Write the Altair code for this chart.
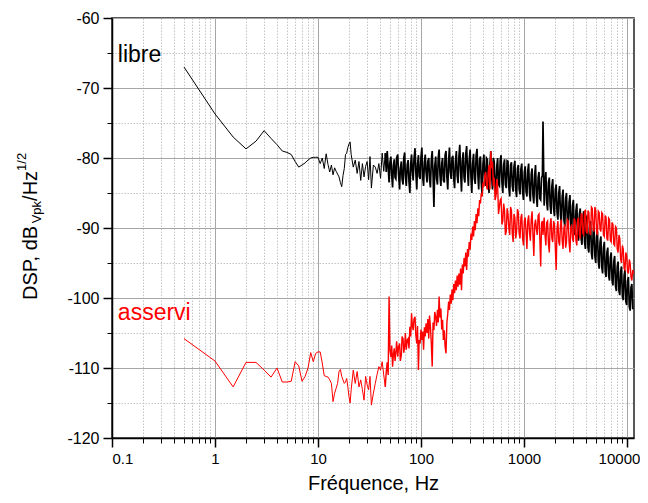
import altair as alt
import pandas as pd

# Frequencies (Hz)
freqs = [
    0.5, 1, 1.5, 2, 2.5, 3, 3.5, 4, 4.5, 5,
    5.5, 6, 6.5, 7, 7.5, 8, 8.5, 9, 9.5, 10,
    10.5, 11, 11.5, 12, 12.5, 13, 13.5, 14, 14.5, 15,
    15.5, 16, 16.5, 17, 17.5, 18, 18.5, 19, 19.5, 20,
    20.5, 21, 22, 23, 24, 25, 26, 27, 28, 29,
    30, 31, 32, 33, 34.5, 36, 37.5, 39, 40.5, 42,
    43.5,
    45, 46, 47, 48, 49, 50, 51, 52, 53, 54,
    55, 56, 57, 58, 59.5, 60.5, 62, 63, 64.5, 65.5,
    67, 68, 69.5, 70.5, 72, 73.5, 75, 76.5, 78, 79.5,
    81, 82.5, 84, 85.5, 87.5, 89, 91, 92.5, 94.5, 96,
    98, 100, 102, 104, 106, 108, 110, 112, 114.5, 116.5,
    119, 121, 123.5, 126, 128.5, 131, 133.5, 136, 139, 141.5,
    144.5, 147, 150, 153, 156, 159, 162, 165, 168.5, 171.5,
    175, 178.5, 182, 185.5, 189, 192.5, 196.5, 200, 204, 208,
    212, 216, 220.5, 224.5, 229, 233.5, 238, 242.5, 247.5, 252,
    257, 262, 267, 272, 277.5, 283, 288.5, 294, 300, 305.5,
    311.5, 317.5, 324, 330, 336.5, 343, 350, 356.5, 363.5, 370.5,
    378, 385, 392.5, 400, 408, 416, 424, 432.5, 441, 449.5,
    458, 467, 476, 485, 494.5, 504, 514, 524, 534, 544.5,
    555, 566, 577, 588, 599.5, 611, 623, 635, 647.5, 660,
    673, 686, 699.5, 713, 727, 741, 755.5, 770, 785, 800,
    816, 832, 848, 864.5, 881, 898, 915.5, 933.5, 951.5, 970,
    989, 1008, 1027.5, 1047.5, 1068, 1089, 1110, 1131.5, 1153.5, 1176,
    1199, 1222.5, 1246, 1270.5, 1295, 1320, 1345.5, 1372, 1398.5, 1425.5,
    1453, 1481.5, 1510, 1530, 1569.5, 1600, 1631, 1663, 1695, 1728,
    1761.5, 1796, 1830.5, 1866, 1902, 1939, 1976.5, 2015, 2054, 2094,
    2134.5, 2176, 2218, 2261.5, 2305, 2350, 2395.5, 2442, 2489.5, 2538,
    2587, 2637.5, 2688.5, 2741, 2794, 2848.5, 2903.5, 2960, 3017, 3076,
    3135.5, 3196.5, 3258.5, 3322, 3386, 3452, 3518.5, 3587, 3656.5, 3728,
    3800, 3874, 3949, 4026, 4104, 4184, 4265, 4348, 4432, 4518,
    4605.5, 4695, 4786, 4879, 4973.5, 5070, 5168.5, 5269, 5371, 5475,
    5581.5, 5690, 5800, 5913, 6027.5, 6145, 6264, 6386, 6509.5, 6636,
    6764.5, 6896, 7029.5, 7166, 7305, 7447, 7591.5, 7739, 7889, 8042,
    8198, 8357, 8519.5, 8685, 8853.5, 9025, 9200.5, 9379, 9561, 9746,
    9935.5, 10128, 10325, 10525, 10730, 10938, 11150, 11373, 11600,
]

# "libre" spectrum (dB)
libre = [
    -67.0, -73.7, -77.0, -78.7, -77.6, -76.1, -77.2, -78.1, -79.0, -79.2,
    -79.5, -80.5, -81.3, -81.0, -80.7, -80.3, -80.0, -79.9, -79.9, -79.9,
    -80.8, -80.0, -81.5, -79.4, -80.9, -82.0, -81.0, -82.4, -81.4, -81.9,
    -82.3, -82.7, -83.5, -84.1, -82.5, -81.5, -79.5, -79.3, -78.5, -78.0,
    -77.7, -79.5, -81.3, -80.3, -82.2, -80.5, -83.2, -80.8, -82.7, -81.2,
    -80.5, -83.1, -79.8, -84.3, -81.0, -81.3, -82.2, -80.8, -82.9, -79.3,
    -81.9,
    -79.3, -82.0, -79.0, -81.2, -83.5, -80.6, -79.8, -82.5, -84.2, -81.0,
    -80.2, -82.8, -83.0, -80.0, -79.5, -82.2, -84.5, -81.5, -80.5, -83.0,
    -83.8, -80.0, -79.2, -82.6, -84.0, -81.0, -80.3, -83.4, -85.0, -80.8,
    -79.5, -82.0, -83.2, -80.2, -78.6, -81.8, -84.5, -81.0, -79.6, -82.6,
    -83.0, -79.9, -78.5, -82.8, -84.0, -80.6, -79.5, -82.0, -83.5, -80.5,
    -80.0, -83.0, -84.2, -80.3, -79.0, -82.4, -87.0, -81.2, -79.8, -82.9,
    -83.8, -80.0, -78.8, -82.5, -84.0, -80.8, -80.0, -83.2, -83.5, -79.6,
    -79.0, -82.7, -84.5, -80.4, -78.5, -82.0, -83.0, -80.0, -79.7, -83.0,
    -84.3, -80.5, -79.0, -82.5, -83.6, -79.8, -78.1, -82.0, -84.8, -80.4,
    -79.2, -82.8, -83.5, -79.5, -78.3, -81.8, -84.0, -80.3, -78.8, -82.6,
    -85.0, -80.8, -79.4, -83.0, -83.7, -79.6, -78.7, -82.4, -84.5, -80.2,
    -79.8, -83.5, -85.4, -80.8, -79.5, -82.8, -84.0, -80.0, -80.2, -83.6,
    -85.0, -81.0, -79.0, -82.5, -84.5, -80.0, -80.5, -84.0, -85.2, -81.2,
    -80.0, -83.8, -84.0, -80.3, -79.6, -83.5, -85.0, -81.0, -80.2, -83.8,
    -84.3, -80.4, -80.5, -84.2, -85.5, -81.0, -80.6, -84.0, -84.8, -81.2,
    -80.4, -84.5, -85.6, -81.5, -81.0, -84.5, -85.2, -81.6, -80.8, -84.8,
    -86.0, -82.0, -81.2, -84.8, -85.5, -81.8, -80.8, -85.0, -86.2, -82.3,
    -81.5, -85.3, -86.5, -82.5, -81.0, -85.5, -87.0, -82.8, -82.0, -85.8,
    -86.0, -82.8, -82.5, -74.8, -86.8, -83.5, -82.0, -86.3, -87.5, -83.5,
    -82.8, -86.8, -88.0, -84.0, -83.0, -87.2, -88.3, -84.5, -83.8, -87.8,
    -88.8, -85.0, -84.0, -88.2, -89.2, -85.5, -84.5, -88.8, -89.8, -85.8,
    -85.0, -89.0, -90.0, -86.3, -85.3, -89.5, -90.6, -86.8, -86.0, -90.2,
    -91.0, -87.5, -86.5, -90.8, -91.8, -88.0, -87.2, -91.5, -92.4, -88.6,
    -87.6, -92.0, -93.0, -89.2, -88.2, -92.8, -93.5, -89.8, -89.0, -93.6,
    -94.5, -90.5, -89.8, -94.0, -95.0, -91.2, -90.5, -94.8, -95.8, -92.0,
    -91.2, -95.6, -96.5, -92.8, -92.0, -96.2, -97.0, -93.5, -92.8, -96.8,
    -97.5, -94.2, -93.5, -97.5, -98.2, -94.8, -94.0, -98.3, -99.0, -95.5,
    -94.8, -99.0, -99.6, -96.2, -95.5, -99.8, -100.3, -96.8, -96.0, -100.5,
    -101.0, -97.5, -97.0, -101.2, -101.8, -98.5, -98.0, -101.5, -101.5,
]

# "asservi" spectrum (dB)
asservi = [
    -105.8, -109.0, -112.7, -109.2, -109.2, -110.3, -111.3, -110.0, -112.0, -112.0,
    -111.9, -109.1, -109.7, -111.9, -111.2, -110.0, -107.8, -109.1, -107.9, -107.7,
    -107.7, -109.3, -111.1, -111.2, -111.3, -111.7, -112.2, -114.8, -113.6, -112.9,
    -112.2, -110.5, -110.2, -111.2, -111.7, -112.2, -112.0, -111.5, -112.7, -114.1,
    -115.0, -113.1, -110.3, -112.2, -110.5, -112.7, -111.7, -113.1, -114.6, -111.2,
    -112.4, -113.1, -111.2, -115.3, -113.6, -112.2, -110.9, -109.8, -110.3, -109.1,
    -111.0,
    -112.7, -110.5, -109.2, -111.0, -99.8, -107.5, -108.4, -106.8, -109.8, -108.0,
    -107.2, -109.0, -107.9, -106.2, -108.4, -107.0, -106.5, -109.0, -108.1, -105.5,
    -105.8, -107.8, -106.9, -105.0, -107.4, -106.0, -105.8, -107.2, -104.1, -105.5,
    -102.2, -104.0, -104.6, -103.0, -102.7, -105.2, -106.5, -104.0, -110.3, -106.0,
    -106.5, -104.5, -106.0, -104.8, -107.4, -104.2, -105.5, -103.6, -105.0, -103.0,
    -105.8, -102.5, -104.1, -106.5, -109.8, -103.5, -104.6, -102.0, -102.7, -104.0,
    -101.7, -103.5, -99.8, -102.8, -101.5, -104.5, -103.1, -106.0, -104.6, -107.0,
    -107.9, -103.5, -102.2, -100.5, -101.7, -99.5, -100.8, -98.8, -100.3, -98.0,
    -99.3, -97.5, -98.9, -96.8, -98.4, -96.5, -98.1, -95.8, -98.9, -95.2,
    -96.5, -94.3, -95.5, -93.5, -96.0, -93.0, -94.1, -92.0, -93.1, -90.8,
    -91.7, -89.8, -91.2, -89.0, -90.3, -88.0, -89.3, -87.2, -88.3, -86.0,
    -86.5, -85.0, -85.5, -83.5, -84.1, -82.5, -82.0, -84.0, -84.5, -82.0,
    -81.0, -84.5, -79.0, -81.5, -80.5, -84.0, -82.8, -86.0, -85.5, -83.0,
    -84.0, -88.0, -87.0, -86.0, -85.8, -89.5, -89.0, -86.5, -87.5, -91.0,
    -90.5, -87.2, -88.0, -90.0, -91.0, -87.0, -87.5, -90.8, -92.0, -88.0,
    -88.5, -91.5, -90.5, -87.3, -87.8, -90.8, -91.5, -88.5, -88.0, -91.5,
    -92.5, -89.0, -88.5, -90.5, -93.0, -89.0, -88.2, -90.6, -91.8, -88.8,
    -87.6, -91.0, -94.0, -89.5, -88.8, -90.2, -91.0, -88.2, -88.0, -91.5,
    -95.5, -89.3, -89.0, -91.0, -88.5, -91.0, -92.5, -89.2, -89.0, -92.2,
    -93.5, -89.5, -88.6, -91.5, -92.0, -89.0, -89.5, -92.8, -96.0, -90.0,
    -89.0, -92.0, -92.5, -89.5, -88.8, -91.8, -93.0, -90.0, -89.5, -92.8,
    -92.0, -88.8, -89.0, -92.0, -93.5, -90.0, -89.5, -91.5, -92.0, -88.6,
    -89.0, -91.8, -92.5, -88.8, -88.5, -91.0, -91.5, -88.0, -88.0, -90.8,
    -91.0, -87.6, -87.5, -90.5, -90.8, -87.5, -87.8, -90.6, -91.0, -87.0,
    -87.2, -90.2, -90.5, -87.0, -87.5, -90.6, -91.0, -87.6, -87.8, -90.2,
    -90.5, -87.8, -88.0, -91.0, -91.2, -88.2, -88.5, -91.5, -91.8, -88.6,
    -88.8, -91.8, -92.0, -89.2, -89.5, -92.3, -92.5, -89.8, -90.0, -93.0,
    -93.5, -91.0, -91.5, -94.5, -95.0, -92.5, -93.0, -95.8, -96.0, -93.5,
    -94.0, -96.2, -96.5, -94.5, -95.0, -97.0, -97.5, -96.0, -96.5,
]

x_major = [0.1, 1, 10, 100, 1000, 10000]
x_minor = [0.2, 0.3, 0.4, 0.5, 0.6, 0.7, 0.8, 0.9,
           2, 3, 4, 5, 6, 7, 8, 9,
           20, 30, 40, 50, 60, 70, 80, 90,
           200, 300, 400, 500, 600, 700, 800, 900,
           2000, 3000, 4000, 5000, 6000, 7000, 8000, 9000]
y_major = [-120, -110, -100, -90, -80, -70, -60]
y_minor = [-115, -105, -95, -85, -75, -65]

labels_txt = ["libre", "asservi"]
labels_f = [0.114, 0.114]
labels_v = [-66.3, -103.1]
labels_col = ["#000000", "#ff0000"]

n = min(len(freqs), len(libre), len(asservi))
df_l = pd.DataFrame({"f": freqs[:n], "v": libre[:n]})
df_a = pd.DataFrame({"f": freqs[:n], "v": asservi[:n]})
df_lab = pd.DataFrame({"t": labels_txt, "f": labels_f, "v": labels_v, "c": labels_col})

FONT = "Liberation Sans"
SPLIT = 45  # Hz: sparse low-frequency part drawn thin, dense part thicker
xs = alt.Scale(type="log", domain=[0.1, 11700], nice=False)
ys = alt.Scale(domain=[-120, -60], nice=False, zero=False)

minor = alt.Chart(df_l).mark_line(opacity=0).encode(
    x=alt.X("f:Q", scale=xs, axis=alt.Axis(
        orient="bottom", values=x_minor, grid=True, gridColor="#c4c4c4",
        gridDash=[1.5, 1.5], gridWidth=1, ticks=True, tickSize=5,
        tickColor="black", tickWidth=1, labels=False, domain=False, title=None)),
    y=alt.Y("v:Q", scale=ys, axis=alt.Axis(
        orient="left", values=y_minor, grid=True, gridColor="#c4c4c4",
        gridDash=[1.5, 1.5], gridWidth=1, ticks=True, tickSize=5,
        tickColor="black", tickWidth=1, labels=False, domain=False, title=None)),
)

black_lo = alt.Chart(df_l).transform_filter(f"datum.f <= {SPLIT}").mark_line(
    color="black", strokeWidth=1).encode(
    x=alt.X("f:Q", scale=xs, axis=alt.Axis(
        orient="bottom", values=x_major, grid=True, gridColor="#a6a6a6",
        gridWidth=1, tickSize=9, tickColor="black", tickWidth=1.5,
        domain=True, domainColor="black", domainWidth=1.5,
        labels=True, labelExpr="'' + datum.value", labelFont=FONT,
        labelFontSize=15, labelColor="black", labelPadding=4,
        labelOffset={"condition": {"test": "datum.value == 10000", "value": -8}, "value": 0},
        title="Fréquence, Hz", titleFont=FONT, titleFontSize=20,
        titleFontWeight="normal", titleColor="black", titleY=51,
        titleBaseline="alphabetic")),
    y=alt.Y("v:Q", scale=ys, axis=alt.Axis(
        orient="left", values=y_major, grid=True, gridColor="#a6a6a6",
        gridWidth=1, tickSize=9, tickColor="black", tickWidth=1.5,
        domain=True, domainColor="black", domainWidth=1.5,
        labels=True, labelExpr="'' + datum.value", labelFont=FONT,
        labelFontSize=16, labelColor="black", labelPadding=4, title=None)),
)

black_hi = alt.Chart(df_l).transform_filter(f"datum.f >= {SPLIT}").mark_line(
    color="black", strokeWidth=1.7).encode(
    x=alt.X("f:Q", scale=xs, axis=None),
    y=alt.Y("v:Q", scale=ys, axis=None),
)

red_lo = alt.Chart(df_a).transform_filter(f"datum.f <= {SPLIT}").mark_line(
    color="#ff0000", strokeWidth=1).encode(
    x=alt.X("f:Q", scale=xs, axis=None),
    y=alt.Y("v:Q", scale=ys, axis=None),
)

red_hi = alt.Chart(df_a).transform_filter(f"datum.f >= {SPLIT}").mark_line(
    color="#ff0000", strokeWidth=1.4).encode(
    x=alt.X("f:Q", scale=xs, axis=None),
    y=alt.Y("v:Q", scale=ys, axis=None),
)

labels = alt.Chart(df_lab).mark_text(
    align="left", baseline="alphabetic", font=FONT, fontSize=23
).encode(
    x=alt.X("f:Q", scale=xs, axis=None),
    y=alt.Y("v:Q", scale=ys, axis=None),
    text="t:N",
    color=alt.Color("c:N", scale=None),
)

one = pd.DataFrame({"k": [0]})
def ytitle(txt, size, xpx, ypx):
    return alt.Chart(one).mark_text(
        text=txt, angle=270, align="left", baseline="alphabetic",
        font=FONT, fontSize=size, color="black"
    ).encode(x=alt.value(xpx), y=alt.value(ypx))

t1 = ytitle("DSP, dB", 20, -75, 282)
t2 = ytitle("Vpk", 13, -71.5, 205.3)
t3 = ytitle("/Hz", 20, -75, 182.9)
t4 = ytitle("1/2", 13, -86, 152.9)

chart = alt.layer(minor, black_lo, black_hi, red_lo, red_hi, labels,
                  t1, t2, t3, t4).resolve_axis(
    x="independent", y="independent"
).properties(
    width=522, height=420, autosize="none",
    padding={"left": 104, "top": 10, "right": 6, "bottom": 57},
).configure_view(stroke="#222222", strokeWidth=1.5)

chart.save("out.html", embed_options={"renderer": "svg", "actions": False})
